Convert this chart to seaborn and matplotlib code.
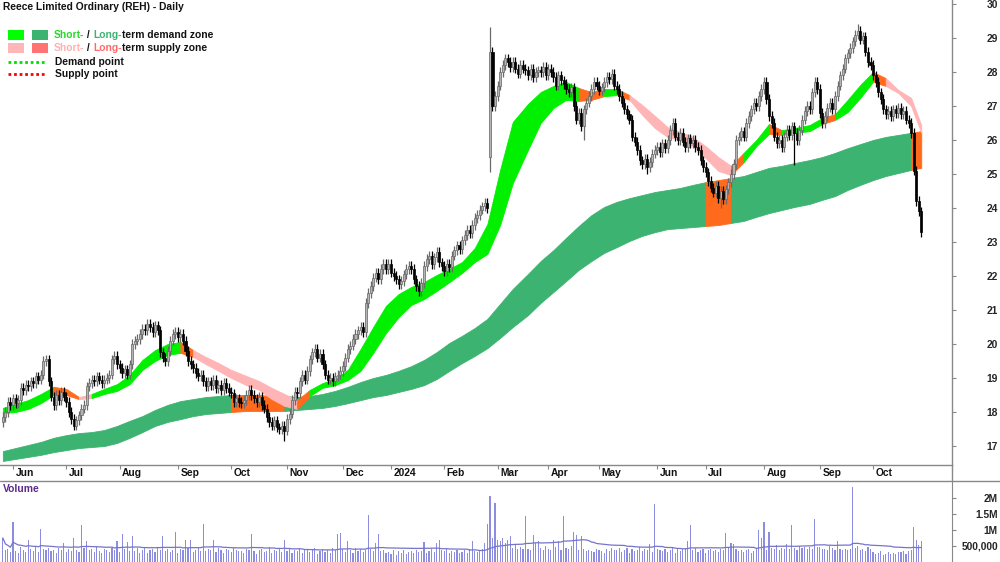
import numpy as np
import pandas as pd
import matplotlib
matplotlib.use("Agg")
import matplotlib.pyplot as plt
from matplotlib.patches import Rectangle
from matplotlib.lines import Line2D
import seaborn as sns

sns.set_style("white")
plt.rcParams['font.family'] = ['Liberation Sans', 'DejaVu Sans']
plt.rcParams['font.weight'] = 'bold'

# ASX trading days, May 2023 - Oct 2024
holidays = ['2023-06-12', '2023-12-25', '2023-12-26', '2024-01-01', '2024-01-26',
            '2024-03-29', '2024-04-01', '2024-04-25', '2024-06-10']

closes = [
    17.85, 18.0, 18.3, 18.2, 18.4, 18.25, 18.35, 18.7, 18.65, 18.8,
    18.75, 18.9, 18.85, 19.05, 18.95, 19.1, 19.5, 19.55, 18.9, 18.45,
    18.2, 18.5, 18.35, 18.6, 18.45, 18.3, 18.0, 17.8, 17.6, 17.75,
    17.9, 18.1, 18.2, 18.75, 18.85, 18.95, 18.9, 19.05, 18.95, 18.85,
    18.95, 19.0, 19.1, 19.55, 19.65, 19.4, 19.3, 19.15, 19.25, 19.1,
    19.4, 20.0, 20.1, 20.15, 20.3, 20.45, 20.4, 20.6, 20.5, 20.35,
    20.55, 20.4, 19.75, 19.6, 19.5, 19.8, 20.1, 20.3, 20.35, 20.2,
    20.3, 20.1, 19.8, 19.5, 19.4, 19.3, 19.15, 19.05, 19.1, 18.9,
    18.75, 18.9, 18.8, 18.95, 18.7, 18.8, 18.65, 18.85, 18.7, 18.6,
    18.55, 18.3, 18.4, 18.3, 18.25, 18.35, 18.5, 18.65, 18.5, 18.4, 18.3,
    18.45, 18.2, 18.1, 17.85, 17.7, 17.6, 17.75, 17.55, 17.5, 17.6,
    17.45, 17.8, 17.95, 18.35, 18.6, 18.55, 18.9, 19.1, 18.95, 19.2,
    19.55, 19.75, 19.85, 19.6, 19.7, 19.4, 19.1, 18.95, 19.0, 18.9,
    19.05, 19.1, 19.2, 19.35, 19.6, 19.85, 19.95, 20.15, 20.3, 20.4,
    20.5, 20.35, 21.2, 21.5, 21.7, 21.95, 22.1, 21.9, 22.2, 22.35,
    22.2, 22.35, 22.1, 22.0, 21.9, 21.75, 21.85, 22.05, 22.2, 22.3,
    22.2, 21.9, 21.7, 21.55, 21.8, 22.3, 22.5, 22.6, 22.35, 22.55,
    22.7, 22.4, 22.3, 22.15, 22.35, 22.25, 22.6, 22.75, 22.9, 22.8,
    23.05, 23.2, 23.35, 23.25, 23.5, 23.7, 23.8, 23.95, 24.05, 24.15,
    24.0, 28.6, 27.0, 27.3, 27.6, 28.0, 28.2, 28.4, 28.3, 28.15,
    28.3, 28.1, 27.95, 28.2, 28.1, 28.05, 27.9, 28.1, 27.85, 28.0, 28.05,
    28.0, 28.15, 27.9, 28.1, 28.0, 27.85, 27.6, 27.9, 27.75, 27.65,
    27.5, 27.4, 27.55, 27.0, 26.6, 26.8, 26.4, 26.9, 27.1, 27.3,
    27.5, 27.7, 27.6, 27.45, 27.55, 27.7, 27.85, 27.8, 27.95, 27.6,
    27.5, 27.3, 27.1, 26.9, 26.75, 26.6, 26.1, 25.95, 25.7, 25.4,
    25.3, 25.45, 25.2, 25.35, 25.6, 25.7, 25.8, 25.65, 25.9, 25.75,
    26.0, 26.3, 26.5, 26.1, 26.0, 26.2, 25.95, 25.8, 26.05, 25.9,
    26.0, 25.8, 25.7, 25.4, 25.2, 25.05, 24.8, 24.6, 24.45, 24.65,
    24.3, 24.5, 24.25, 24.55, 24.75, 25.0, 25.3, 26.0, 26.1, 26.25,
    26.1, 26.5, 26.7, 26.9, 27.1, 27.0, 27.3, 27.5, 27.7, 27.2,
    26.7, 26.5, 26.1, 25.9, 26.0, 25.8, 26.1, 26.3, 26.15, 26.4,
    26.2, 26.0, 26.3, 26.6, 26.85, 27.0, 26.9, 27.4, 27.7, 27.5,
    26.8, 26.5, 26.7, 26.95, 27.1, 26.9, 27.3, 27.6, 27.9, 28.1,
    28.4, 28.55, 28.7, 28.9, 29.1, 29.2, 28.95, 29.05, 28.6, 28.3,
    28.2, 27.9, 27.7, 27.4, 27.2, 26.9, 26.75, 26.85, 26.7, 26.9,
    26.8, 26.95, 26.75, 26.85, 26.6, 26.5, 26.2, 25.1, 24.2, 23.9, 23.3,
]
open_gaps = {0: 17.7, 192: 25.5}
wick_highs = {192: 29.32, 337: 29.4}
wick_lows = {111: 17.15, 192: 25.05, 229: 26.0, 254: 25.0, 283: 24.0, 312: 25.25}

volume_k = [
    750, 380, 420, 300, 1250, 350, 280, 460, 390, 320,
    700, 410, 350, 480, 300, 1030, 420, 380, 450, 330,
    390, 270, 440, 360, 600, 310, 420, 350, 750, 390,
    300, 1150, 450, 650, 380, 420, 300, 490, 350, 280,
    410, 360, 320, 450, 380, 650, 300, 870, 420, 640,
    350, 800, 330, 430, 290, 380, 450, 270, 360, 410,
    300, 480, 380, 800, 350, 420, 320, 390, 940, 280,
    410, 360, 700, 450, 700, 310, 380, 440, 350, 1200,
    330, 420, 380, 690, 300, 450, 360, 280, 420, 390,
    310, 460, 380, 330, 350, 290, 420, 370, 870, 330, 260,
    380, 420, 300, 350, 460, 280, 390, 330, 410, 300,
    700, 350, 420, 290, 380, 330, 450, 270, 360, 410,
    300, 380, 440, 260, 350, 410, 320, 380, 290, 440,
    360, 880, 920, 420, 310, 650, 380, 290, 450, 350,
    400, 310, 380, 1470, 420, 350, 600, 870, 330, 380,
    280, 310, 260, 380, 220, 340, 290, 360, 250, 300,
    330, 270, 380, 300, 350, 620, 280, 340, 400, 320,
    600, 700, 380, 330, 420, 290, 350, 300, 380, 270,
    320, 360, 290, 400, 650, 350, 300, 330, 420, 600,
    1180, 2050, 750, 1850, 700, 650, 750, 600, 680, 800,
    450, 550, 400, 480, 400, 1440, 420, 380, 850, 600, 650,
    450, 380, 500, 420, 360, 700, 480, 650, 380, 1440,
    450, 420, 500, 950, 830, 380, 800, 420, 350, 380,
    330, 300, 420, 380, 350, 290, 400, 330, 450, 380,
    360, 430, 300, 390, 450, 280, 420, 350, 390, 460,
    340, 410, 380, 550, 300, 1800, 420, 380, 350, 410,
    300, 390, 450, 280, 400, 350, 410, 430, 650, 1150,
    380, 450, 300, 360, 410, 290, 380, 420, 340, 390,
    300, 420, 380, 900, 450, 600, 550, 400, 330, 380,
    310, 380, 420, 290, 340, 450, 1000, 750, 1250, 380,
    950, 430, 400, 520, 380, 450, 400, 550, 420, 1150,
    450, 380, 500, 450, 470, 400, 480, 420, 1350, 460,
    480, 400, 420, 380, 500, 450, 380, 650, 420, 360,
    400, 380, 420, 2350, 450, 500, 380, 420, 350, 460,
    400, 300, 250, 280, 330, 220, 260, 300, 240, 280,
    250, 320, 300, 330, 260, 350, 380, 1100, 700, 540, 650,
]

# zone samples (trading-day index) and their edges
band_idx = [0, 5, 10, 15, 20, 25, 30, 35, 40, 45,
            50, 55, 60, 65, 70, 75, 80, 85, 90, 96,
            101, 106, 111, 116, 121, 126, 131, 136, 141, 146,
            151, 156, 161, 166, 171, 176, 181, 186, 191, 196,
            201, 207, 212, 217, 222, 227, 232, 237, 242, 247,
            252, 257, 262, 267, 272, 277, 282, 287, 292, 297,
            302, 307, 312, 318, 323, 328, 333, 338, 343, 348,
            353, 358, 362]
short_hi = [18.12, 18.24, 18.35, 18.53, 18.74, 18.68, 18.44, 18.53, 18.68, 18.82,
            19.09, 19.53, 19.82, 20.00, 20.06, 19.82, 19.62, 19.44, 19.24, 19.06,
            18.91, 18.71, 18.53, 18.35, 18.65, 18.85, 18.97, 19.24, 19.85, 20.50,
            21.12, 21.47, 21.68, 21.82, 22.03, 22.21, 22.41, 22.82, 23.53, 25.12,
            26.53, 27.06, 27.41, 27.59, 27.71, 27.53, 27.41, 27.50, 27.50, 27.32,
            27.03, 26.71, 26.38, 26.24, 26.09, 25.82, 25.50, 25.24, 25.62, 26.00,
            26.47, 26.29, 26.35, 26.44, 26.65, 26.76, 27.18, 27.62, 28.00, 27.82,
            27.47, 27.24, 26.44]
short_lo = [17.97, 18.00, 18.09, 18.26, 18.50, 18.50, 18.38, 18.41, 18.53, 18.62,
            18.82, 19.24, 19.50, 19.68, 19.74, 19.62, 19.41, 19.21, 19.00, 18.79,
            18.65, 18.38, 18.18, 18.09, 18.47, 18.71, 18.79, 18.94, 19.21, 19.74,
            20.32, 20.79, 21.15, 21.32, 21.56, 21.82, 22.09, 22.41, 22.65, 23.50,
            24.73, 25.71, 26.50, 26.94, 27.18, 27.15, 27.18, 27.29, 27.32, 27.18,
            26.74, 26.35, 26.09, 26.00, 25.82, 25.47, 25.09, 24.97, 25.35, 25.82,
            26.18, 26.15, 26.21, 26.26, 26.47, 26.59, 26.82, 27.24, 27.71, 27.59,
            27.38, 27.00, 26.21]
long_hi = [16.85, 16.94, 17.03, 17.12, 17.24, 17.32, 17.38, 17.41, 17.47, 17.59,
           17.74, 17.88, 18.06, 18.21, 18.32, 18.38, 18.44, 18.47, 18.50, 18.50,
           18.50, 18.47, 18.47, 18.44, 18.47, 18.53, 18.62, 18.74, 18.88, 19.00,
           19.09, 19.21, 19.35, 19.53, 19.76, 20.03, 20.24, 20.47, 20.74, 21.18,
           21.62, 22.06, 22.44, 22.76, 23.12, 23.47, 23.79, 24.03, 24.18, 24.29,
           24.38, 24.47, 24.53, 24.59, 24.68, 24.76, 24.82, 24.88, 24.94, 25.06,
           25.18, 25.24, 25.32, 25.41, 25.50, 25.62, 25.76, 25.88, 26.00, 26.09,
           26.15, 26.21, 26.26]
long_lo = [16.56, 16.62, 16.68, 16.74, 16.82, 16.88, 16.94, 16.97, 17.00, 17.09,
           17.24, 17.41, 17.59, 17.71, 17.79, 17.88, 17.94, 17.97, 18.00, 18.03,
           18.03, 18.03, 18.03, 18.06, 18.09, 18.12, 18.18, 18.26, 18.35, 18.44,
           18.50, 18.59, 18.68, 18.79, 18.97, 19.21, 19.44, 19.65, 19.88, 20.18,
           20.50, 20.85, 21.21, 21.53, 21.85, 22.18, 22.44, 22.68, 22.85, 23.03,
           23.18, 23.29, 23.38, 23.41, 23.44, 23.47, 23.50, 23.56, 23.62, 23.74,
           23.85, 23.94, 24.03, 24.12, 24.24, 24.35, 24.53, 24.68, 24.82, 24.94,
           25.03, 25.12, 25.18]
# zone state per segment: G demand, P supply, O overlap
short_runs = [('G', 4), ('O', 2), ('P', 1), ('G', 7), ('O', 1), ('P', 8), ('O', 1),
              ('G', 21), ('O', 2), ('G', 1), ('O', 1), ('P', 8), ('O', 1), ('G', 2),
              ('O', 1), ('G', 3), ('O', 1), ('G', 3), ('O', 1), ('P', 3)]
long_runs = [('G', 18), ('O', 4), ('G', 33), ('O', 2), ('G', 14), ('O', 1)]

price_ticks = list(range(17, 31))
vol_ticks = [500000, 1000000, 1500000, 2000000]
vol_labels = ['500,000', '1M', '1.5M', '2M']

# ---------------------------------------------------------------
dates = pd.bdate_range('2023-05-26', '2024-10-28')
dates = dates[~dates.isin(pd.to_datetime(holidays))]
n = len(closes)
dates = dates[:n]
x = np.arange(n)

df = pd.DataFrame({'date': dates, 'close': closes})
df['open'] = df['close'].shift(1)
for i, v in open_gaps.items():
    df.loc[i, 'open'] = v
df['high'] = df[['open', 'close']].max(axis=1) + 0.14
df['low'] = df[['open', 'close']].min(axis=1) - 0.14
for i, v in wick_highs.items():
    df.loc[i, 'high'] = v
for i, v in wick_lows.items():
    df.loc[i, 'low'] = v

FS = 7.4
W, H = 1000, 562
fig = plt.figure(figsize=(W / 100, H / 100), dpi=100)
ax = fig.add_axes([0, 1 - 465 / H, 952 / W, 465 / H])
axv = fig.add_axes([0, 0, 952 / W, 81 / H])

ppd, x0 = 2.537, 2.85   # pixels per session, first session offset
xlim = (-x0 / ppd, (952 - x0) / ppd)

colors_short = {'G': '#00F000', 'P': '#FFB5B5', 'O': '#FF6A1C'}
colors_long = {'G': '#3CB371', 'O': '#FF6A1C'}


def fill_zone(a, lo, hi, runs, cmap):
    bx = np.array(band_idx)
    k = 0
    for state, cnt in runs:
        sl = slice(k, k + cnt + 1)
        a.fill_between(bx[sl], np.array(lo)[sl], np.array(hi)[sl],
                       color=cmap[state], lw=0.6, zorder=1)
        k += cnt


fill_zone(ax, long_lo, long_hi, long_runs, colors_long)
fill_zone(ax, short_lo, short_hi, short_runs, colors_short)

up = (df['close'] >= df['open']).values
body_lo = df[['open', 'close']].min(axis=1).values
body_h = np.maximum((df['close'] - df['open']).abs().values, 0.04)
ax.vlines(x, df['low'], df['high'], colors=np.where(up, '#6a6a6a', '#000000'),
          lw=0.9, zorder=3)
ax.bar(x, body_h, bottom=body_lo, width=0.8,
       color=np.where(up, '#b4b4b4', '#000000'),
       edgecolor=np.where(up, '#666666', '#000000'), lw=0.5, zorder=4)

ax.set_xlim(*xlim)
ax.set_ylim(30.1176 - 465 / 34, 30.1176)
ax.yaxis.tick_right()
ax.set_yticks(price_ticks)
ax.set_yticklabels([str(t) for t in price_ticks])
ax.tick_params(axis='y', direction='out', length=3, color='#888888',
               labelsize=FS, pad=30, right=True, left=False)
for lbl in ax.get_yticklabels():
    lbl.set_horizontalalignment('right')

# month ticks
month_pos = [i for i in range(1, n) if dates[i].month != dates[i - 1].month]
ax.set_xticks(month_pos)
ax.set_xticklabels([])
ax.tick_params(axis='x', direction='out', length=3, color='#888888', bottom=True)
for i in month_pos:
    lab = str(dates[i].year) if dates[i].month == 1 else dates[i].strftime('%b')
    ax.text(i + 1.0, -0.0175, lab, transform=ax.get_xaxis_transform(),
            ha='left', va='center', fontsize=FS, color='#111111')

for s in ['left', 'top']:
    ax.spines[s].set_visible(False)
for s in ['bottom', 'right']:
    ax.spines[s].set_color('#888888')
    ax.spines[s].set_linewidth(1)

# volume
vol = np.array(volume_k) * 1000
sns.barplot(x=x, y=vol, native_scale=True, color='#8c8ce0', saturation=1,
            width=0.45, linewidth=0, errorbar=None, ax=axv)
vol_ma = pd.Series(vol).rolling(40, min_periods=1).mean()
sns.lineplot(x=x, y=vol_ma.values, ax=axv, color='#7474cc', lw=0.9)
axv.set_xlim(*xlim)
axv.set_ylim(0, 2.53e6)
axv.set_xlabel('')
axv.set_ylabel('')
axv.set_xticks([])
axv.yaxis.tick_right()
axv.set_yticks(vol_ticks)
axv.set_yticklabels(vol_labels)
axv.tick_params(axis='y', direction='out', length=3, color='#888888',
                labelsize=FS, pad=30, right=True, left=False)
for lbl in axv.get_yticklabels():
    lbl.set_horizontalalignment('right')
for s in ['left', 'top', 'bottom']:
    axv.spines[s].set_visible(False)
axv.spines['right'].set_color('#888888')

# overlay in pixel coordinates for frame lines, title and legend
ov = fig.add_axes([0, 0, 1, 1], zorder=10)
ov.set_xlim(0, W)
ov.set_ylim(H, 0)
ov.axis('off')
ov.patch.set_visible(False)
ov.add_line(Line2D([0, W], [481, 481], color='#888888', lw=1))
ov.add_line(Line2D([952, 952], [465, 481], color='#888888', lw=1))

ov.text(3, 7, 'Reece Limited Ordinary (REH) - Daily', fontsize=FS,
        va='center', ha='left', color='#111111')
ov.text(3, 489, 'Volume', fontsize=FS, va='center', ha='left', color='#5b2a8c')

ov.add_patch(Rectangle((8, 30), 16, 10, color='#00FF00', lw=0))
ov.add_patch(Rectangle((32, 30), 16, 10, color='#3CB371', lw=0))
ov.add_patch(Rectangle((8, 43), 16, 10, color='#FFB6B6', lw=0))
ov.add_patch(Rectangle((32, 43), 16, 10, color='#FF7373', lw=0))
ov.plot([8, 46], [62, 62], color='#00E000', lw=2, ls=(0, (1, 1)))
ov.plot([8, 46], [74, 74], color='#FF0000', lw=2, ls=(0, (1, 1)))


def color_text(xp, yp, parts):
    t = ov.text(xp, yp, parts[0][0], color=parts[0][1], fontsize=FS,
                va='center', ha='left')
    for s, c in parts[1:]:
        t = ov.annotate(s, xy=(1, 0), xycoords=t, color=c, fontsize=FS,
                        va='bottom', ha='left')


color_text(54, 35, [('Short-', '#22DD22'), (' / ', '#111111'), ('Long-', '#3CB371'),
                    ('term demand zone', '#111111')])
color_text(54, 48, [('Short-', '#FFB0B0'), (' / ', '#111111'), ('Long-', '#FF6B6B'),
                    ('term supply zone', '#111111')])
ov.text(55, 62, 'Demand point', fontsize=FS, va='center', ha='left', color='#111111')
ov.text(55, 74, 'Supply point', fontsize=FS, va='center', ha='left', color='#111111')

fig.savefig('out.png', dpi=100)
